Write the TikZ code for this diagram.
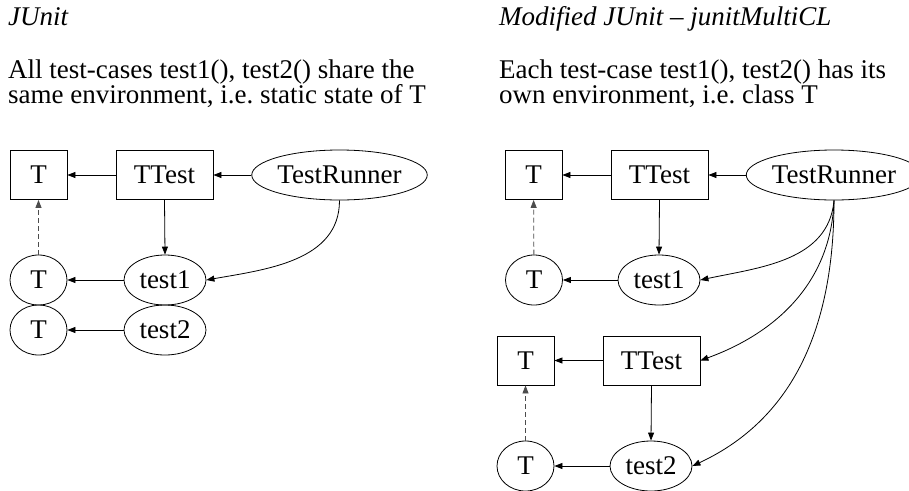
\documentclass[tikz,border=0pt]{standalone}
\usepackage{fontspec}
\setmainfont{Liberation Serif}
\usetikzlibrary{shapes.geometric,arrows.meta}
\frenchspacing

\begin{document}
\begin{tikzpicture}[
    x=1pt, y=-1pt,
    every node/.style={font=\fontsize{27}{25}\selectfont, inner sep=0pt},
    box/.style={rectangle, draw=black, line width=0.8pt, minimum height=49pt},
    oval/.style={ellipse, draw=black, line width=0.8pt, minimum height=50pt},
    arrow/.style={-{Triangle[length=8pt,width=6pt]}, line width=0.8pt},
    dasharrow/.style={arrow, dash pattern=on 5pt off 3pt, draw=black!70},
    caption/.style={anchor=base west, font=\itshape\fontsize{27}{25}\selectfont},
    desc/.style={anchor=base west}
]
\useasboundingbox (0,0) rectangle (909,490);

% JUnit: one shared environment
\node[caption] (junit) at (8,25) {JUnit};
\node[desc] (junitA) at (8,78) {All test-cases test1(), test2() share the};
\node[desc] (junitB) at (8,103) {same environment, i.e. static state of T};

\node[box, minimum width=57pt] (t) at (38.5,175) {T};
\node[box, minimum width=97pt] (ttest) at (164.5,175) {TTest};
\node[oval, minimum width=171pt] (runner) at (339.5,175) {TestRunner};
\node[oval, minimum width=57pt] (tobj1) at (38.5,280) {T};
\node[oval, minimum width=82pt] (test1) at (165,280) {test1};
\node[oval, minimum width=57pt] (tobj2) at (38.5,330) {T};
\node[oval, minimum width=82pt] (test2) at (165,330) {test2};

\draw[arrow] (ttest) -- (t);
\draw[arrow] (runner) -- (ttest);
\draw[arrow] (ttest.south) -- (test1.north);
\draw[arrow] (runner.south) to[out=-90, in=10] (test1.east);
\draw[dasharrow] (tobj1) -- (t);
\draw[arrow] (test1) -- (tobj1);
\draw[arrow] (test2) -- (tobj2);

% Modified JUnit: one environment per test-case
\node[caption] (multi) at (499,25) {Modified JUnit -- junitMultiCL};
\node[desc] (multiA) at (499,78) {Each test-case test1(), test2() has its};
\node[desc] (multiB) at (499,103) {own environment, i.e. class T};

\node[box, minimum width=57pt] (mt1) at (533.5,175) {T};
\node[box, minimum width=97pt] (mttest1) at (659.5,175) {TTest};
\node[oval, minimum width=171pt] (mrunner) at (834,175) {TestRunner};
\node[oval, minimum width=57pt] (mtobj1) at (534,280) {T};
\node[oval, minimum width=82pt] (mtest1) at (659,280) {test1};
\node[box, minimum width=57pt] (mt2) at (525.5,360.5) {T};
\node[box, minimum width=97pt] (mttest2) at (651.5,360.5) {TTest};
\node[oval, minimum width=57pt] (mtobj2) at (525.5,466) {T};
\node[oval, minimum width=82pt] (mtest2) at (651,466) {test2};

\draw[arrow] (mttest1) -- (mt1);
\draw[arrow] (mrunner) -- (mttest1);
\draw[arrow] (mttest1.south) -- (mtest1.north);
\draw[dasharrow] (mtobj1) -- (mt1);
\draw[arrow] (mtest1) -- (mtobj1);
\draw[arrow] (mrunner.south) to[out=-95, in=12] (mtest1.east);
\draw[arrow] (mrunner.south) to[out=-92, in=20] (mttest2.east);
\draw[arrow] (mrunner.south) to[out=-90, in=25] (mtest2.east);
\draw[arrow] (mttest2) -- (mt2);
\draw[arrow] (mttest2.south) -- (mtest2.north);
\draw[dasharrow] (mtobj2) -- (mt2);
\draw[arrow] (mtest2) -- (mtobj2);

\end{tikzpicture}
\end{document}
